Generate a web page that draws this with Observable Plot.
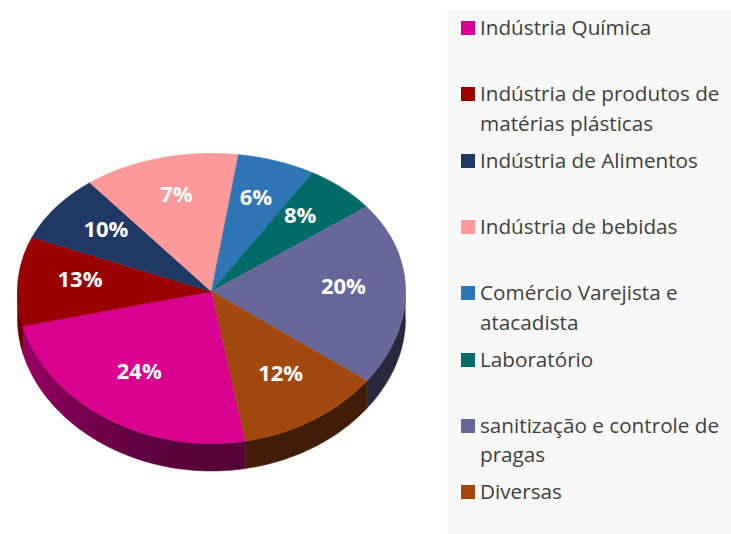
<!DOCTYPE html>
<html><head><meta charset="utf-8">
<script src="https://cdn.jsdelivr.net/npm/d3@7"></script>
<script src="https://cdn.jsdelivr.net/npm/@observablehq/plot@0.6"></script>
<style>
body{margin:0;background:#fff;width:731px;height:534px;overflow:hidden;position:relative;font-family:"Open Sans",sans-serif;}
#chart{position:absolute;left:0;top:0;}
#legend{position:absolute;left:447px;top:10px;width:290px;height:530px;background:#f8f8f8;}
.item{position:absolute;left:14px;display:flex;align-items:flex-start;}
.sw{width:14px;height:14px;margin-top:8px;margin-right:5px;flex:none}
.lab{font-size:20.7px;line-height:29.5px;color:#404040;width:255px}
</style></head><body>
<div id="chart"></div><div id="legend"></div>
<script>
// ---- data ----
const categories = [
  "Indústria Química",
  "Indústria de produtos de matérias plásticas",
  "Indústria de Alimentos",
  "Indústria de bebidas",
  "Comércio Varejista e atacadista",
  "Laboratório",
  "sanitização e controle de pragas",
  "Diversas"
];
// slice sizes as drawn in the picture (percent of circle)
const shares = [24, 10, 8, 13, 6.5, 6, 20.5, 12];
// percentage labels as printed on the slices
const labels = ["24%", "13%", "10%", "7%", "6%", "8%", "20%", "12%"];
const colors = ["#d9008f", "#9b0000", "#203864", "#fe9a9a", "#2e75b6", "#006a66", "#67679a", "#a0480e"];

// ---- geometry (unit circle, tilted) ----
const START = 170;          // degrees clockwise from 12 o'clock
const DEPTH = 0.19;         // wall height in y units
const LABEL_R = 0.68;
const Y = v => v + 0.048 * v * v;
const rad = d => d * Math.PI / 180;
const pt = (deg, r = 1) => ({u: r * Math.sin(rad(deg)), v: -r * Math.cos(rad(deg))});
const total = d3.sum(shares);
let acc = START;
const slices = categories.map((c, i) => { const a0 = acc; acc += shares[i] / total * 360; return {c, i, a0, a1: acc}; });

const topFace = [];
slices.forEach(s => {
  topFace.push({id: s.c, x: 0, y: 0, fill: colors[s.i]});
  const n = Math.max(2, Math.ceil(s.a1 - s.a0));
  for (let k = 0; k <= n; k++) {
    const p = pt(s.a0 + (s.a1 - s.a0) * k / n);
    topFace.push({id: s.c, x: p.u, y: Y(p.v), fill: colors[s.i]});
  }
});

// front (visible) wall of each slice: angular ranges inside [90,270] (+360)
const sideWall = [];
slices.forEach(s => {
  [[90, 270], [450, 630]].forEach(([lo, hi], j) => {
    const a = Math.max(s.a0, lo), b = Math.min(s.a1, hi);
    if (b <= a) return;
    const n = Math.max(2, Math.ceil(b - a));
    const id = s.c + j;
    const fill = `url(#wall${s.i})`;
    const edge = d3.range(n + 1).map(k => pt(a + (b - a) * k / n));
    edge.forEach(p => sideWall.push({id, x: p.u, y: Y(p.v), fill}));
    edge.slice().reverse().forEach(p => sideWall.push({id, x: p.u, y: Y(p.v) + DEPTH, fill}));
  });
});

const shadowRing = d3.range(0, 361, 3).map(a => {
  const p = pt(a, 1.03);
  return {id: "s", x: p.u, y: Y(p.v) + DEPTH * 0.8};
});

const labelPts = slices.map(s => {
  const p = pt((s.a0 + s.a1) / 2, LABEL_R);
  return {x: p.u, y: Y(p.v), text: labels[s.i]};
});

const plot = Plot.plot({
  width: 440, height: 534, margin: 0,
  style: {background: "transparent", overflow: "visible"},
  x: {domain: [-1, 1], range: [17, 405], axis: null},
  y: {domain: [-1, 1], range: [146, 436], axis: null},
  color: {type: "identity"},
  marks: [
    Plot.line(shadowRing, {x: "x", y: "y", z: "id", fill: "#000", fillOpacity: 0.36, stroke: "none", ariaLabel: "shadow"}),
    Plot.line(sideWall, {x: "x", y: "y", z: "id", fill: "fill", stroke: "fill", strokeWidth: 0.5}),
    Plot.line(topFace, {x: "x", y: "y", z: "id", fill: "fill", stroke: "fill", strokeWidth: 0.7}),
    Plot.text(labelPts, {x: "x", y: "y", dy: -4, text: "text", fill: "white", fontSize: 22, fontWeight: "bold", fontFamily: "Open Sans"})
  ]
});
const svg = d3.select(plot);
const defs = svg.insert("defs", ":first-child");
defs.append("filter").attr("id", "blur").attr("x", "-20%").attr("y", "-20%").attr("width", "140%").attr("height", "140%")
  .append("feGaussianBlur").attr("stdDeviation", 5.5);
const xs = plot.scale("x");
colors.forEach((col, i) => {
  const g = defs.append("linearGradient").attr("id", "wall" + i).attr("gradientUnits", "userSpaceOnUse")
    .attr("x1", xs.apply(-1)).attr("x2", xs.apply(1)).attr("y1", 0).attr("y2", 0);
  const c = d3.rgb(col);
  d3.range(0, 1.0001, 0.1).forEach(t => {
    const u = -1 + 2 * t;
    const f = 0.4 + 0.32 * Math.pow(Math.max(0, -u), 2);
    g.append("stop").attr("offset", t).attr("stop-color", d3.rgb(c.r * f, c.g * f, c.b * f).formatHex());
  });
});
const sh = plot.querySelector('g[aria-label="shadow"]');
if (sh) sh.setAttribute("filter", "url(#blur)");
document.getElementById("chart").appendChild(plot);

// ---- legend ----
const legend = d3.select("#legend");
categories.forEach((c, i) => {
  const it = legend.append("div").attr("class", "item").style("top", (3 + i * 66.3) + "px");
  it.append("div").attr("class", "sw").style("background", colors[i]);
  it.append("div").attr("class", "lab").text(c);
});
</script>
</body></html>
